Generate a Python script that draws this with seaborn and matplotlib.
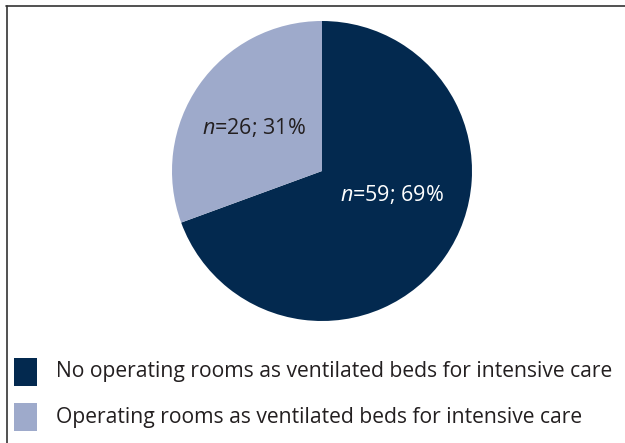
import matplotlib
matplotlib.use("Agg")
import matplotlib.pyplot as plt
import seaborn as sns
from matplotlib.patches import Rectangle
from matplotlib.lines import Line2D

# Data
categories = ["No operating rooms as ventilated beds for intensive care",
              "Operating rooms as ventilated beds for intensive care"]
counts = [59, 26]
colors = ["#03294f", "#9eaacb"]
label_colors = ["white", "#231f20"]

sns.set_theme(style="white")
plt.rcParams['font.family'] = ['Open Sans', 'DejaVu Sans']
plt.rcParams['mathtext.fontset'] = 'custom'
plt.rcParams['mathtext.it'] = 'Open Sans:italic'
plt.rcParams['mathtext.rm'] = 'Open Sans'

W, H = 625, 443
fig = plt.figure(figsize=(W / 100, H / 100), dpi=100)
fig.patch.set_facecolor("white")

cx, cy, r = 322, 171, 150
ax = fig.add_axes([(cx - r) / W, 1 - (cy + r) / H, 2 * r / W, 2 * r / H])
wedges, _ = ax.pie(counts, colors=colors, startangle=90, counterclock=False,
                   wedgeprops=dict(linewidth=0))
ax.set_xlim(-1, 1)
ax.set_ylim(-1, 1)
ax.set_aspect("equal")
ax.axis("off")

total = sum(counts)
label_pos = [(0.467, -0.16), (-0.453, 0.293)]
for c, lc, (lx, ly) in zip(counts, label_colors, label_pos):
    pct = round(c / total * 100)
    ax.text(lx, ly, r"$\it{n}$" + f"={c}; {pct}%", ha="center", va="center",
            color=lc, fontsize=15.5)

# Legend (manual squares + text)
ys = [371.5, 417]
for lab, col, y in zip(categories, colors, ys):
    fig.patches.append(Rectangle((14 / W, 1 - (y + 14) / H), 23 / W, 28 / H,
                                 transform=fig.transFigure, facecolor=col,
                                 edgecolor="none"))
    fig.text(56 / W, 1 - y / H, lab, ha="left", va="center", fontsize=15.2,
             color="#231f20")

# Border
fig.lines.append(Line2D([6.5 / W, 6.5 / W], [0, 1 - 5.5 / H], transform=fig.transFigure,
                        color="#333333", linewidth=1.2))
fig.lines.append(Line2D([6 / W, 1], [1 - 5.5 / H, 1 - 5.5 / H], transform=fig.transFigure,
                        color="#333333", linewidth=1.2))

fig.savefig("out.png", dpi=100)
